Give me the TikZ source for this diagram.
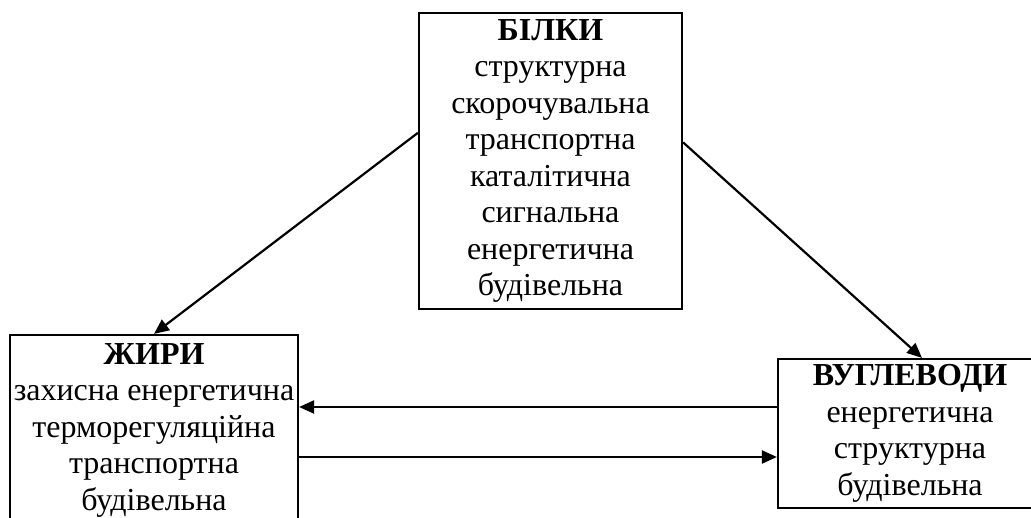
\documentclass[tikz,border=0pt]{standalone}
\usepackage{fontspec}
\setmainfont{Liberation Serif}
\usetikzlibrary{arrows.meta}
\tikzset{
  box/.style={draw, line width=2.2pt, align=center, inner sep=0pt,
    font=\fontsize{32}{36.5}\selectfont},
  arr/.style={-{Triangle[length=15pt,width=13pt]}, line width=2.2pt}
}
\begin{document}
\begin{tikzpicture}[x=1pt,y=-1pt]
      \clip (0,0) rectangle (1031,518);
      \node[box, minimum width=263pt, minimum height=296pt] (bilky) at (550.5,161)
        {\textbf{БІЛКИ}\\структурна\\скорочувальна\\транспортна\\каталітична\\сигнальна\\енергетична\\будівельна};
      \node[box, minimum width=288pt, minimum height=190pt] (zhyry) at (154,430)
        {\textbf{ЖИРИ}\\захисна енергетична\\терморегуляційна\\транспортна\\будівельна};
      \node[box, minimum width=264pt, minimum height=149pt] (vuhl) at (910,433.5)
        {\textbf{ВУГЛЕВОДИ}\\енергетична\\структурна\\будівельна};
      \draw[arr] (bilky.168) -- (zhyry.north);
      \draw[arr] (bilky.8) -- ([xshift=12pt]vuhl.north);
      \draw[arr] ([yshift=26.5pt]vuhl.west) -- ([yshift=23pt]zhyry.east);
      \draw[arr] ([yshift=-27pt]zhyry.east) -- ([yshift=-23.5pt]vuhl.west);

    \end{tikzpicture}
\end{document}
